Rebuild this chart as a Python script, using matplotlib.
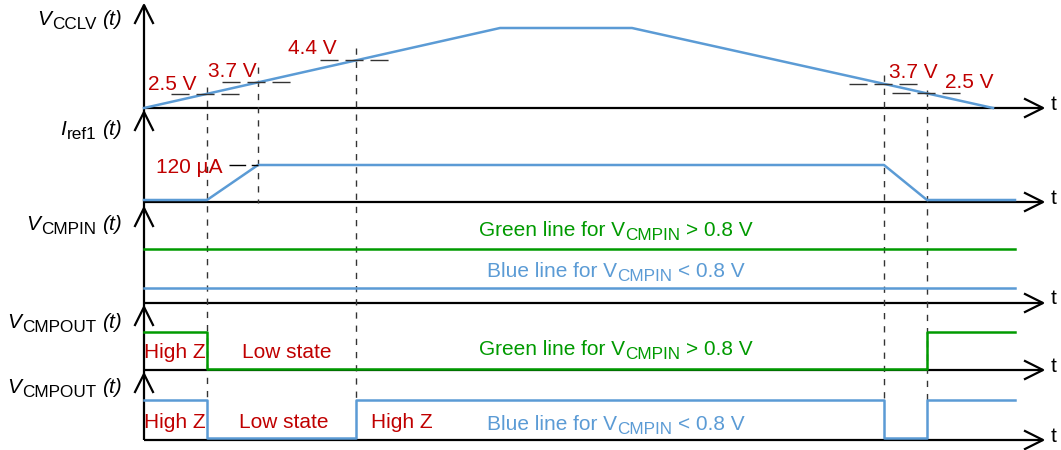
import numpy as np
import matplotlib
matplotlib.use("Agg")
import matplotlib.pyplot as plt

plt.rcParams['font.family'] = ['Liberation Sans', 'DejaVu Sans']

# ---------------- data (time units from the vertical axis) ----------------
t_events = [63, 114, 212, 740, 783]          # t1..t5 (dashed markers)
t_end = 871

vcclv_t = [0, 356, 488, 849]
vcclv_v = [0, 80, 80, 0]
vcclv_labels = ["2.5 V", "3.7 V", "4.4 V", "3.7 V", "2.5 V"]

iref_t = [0, 63, 114, 740, 783, 871]
iref_v = [2, 2, 37, 37, 2, 2]
iref_label = "120 µA"

vcmpin_green_t = [0, 871]
vcmpin_green_v = [54, 54]
vcmpin_blue_t = [0, 871]
vcmpin_blue_v = [15, 15]

out_green_t = [0, 63, 63, 783, 783, 871]
out_green_v = [38, 38, 1, 1, 38, 38]
out_blue_t = [0, 63, 63, 212, 212, 740, 740, 783, 783, 871]
out_blue_v = [40, 40, 2, 2, 40, 40, 2, 2, 40, 40]

panel_symbols = ["V", "I", "V", "V", "V"]
panel_subs = ["CCLV", "ref1", "CMPIN", "CMPOUT", "CMPOUT"]
state_labels_green = ["High Z", "Low state"]
state_labels_blue = ["High Z", "Low state", "High Z"]

# ---------------- layout / style ----------------
X0 = 144
baselines = [108, 202, 303, 370, 440]
tops = [5, 112, 208, 307, 374]
label_baselines = [25, 135, 230, 328, 393]
X_ARROW = 1043
BLUE = '#5b9bd5'
GREEN = '#009a00'
RED = '#c00000'
FS = 15
FS_SUB = 12.3
SUB_DY = 4

fig = plt.figure(figsize=(10.61, 4.5), dpi=100)
ax = fig.add_axes([0, 0, 1, 1])
ax.set_xlim(0, 1061)
ax.set_ylim(450, 0)
ax.axis('off')
renderer = fig.canvas.get_renderer()


def X(t):
    return X0 + np.asarray(t, dtype=float)


def Y(p, v):
    return baselines[p] - np.asarray(v, dtype=float)


def rich(x, y, parts, ha='center', color='black'):
    """parts: (text, size, italic, dy_down, gap_before)"""
    arts, widths = [], []
    for s, size, it, dy, gap in parts:
        t = ax.text(0, 0, s, fontsize=size, style='italic' if it else 'normal',
                    color=color, ha='left', va='baseline')
        widths.append(t.get_window_extent(renderer).width)
        arts.append(t)
    total = sum(widths) + sum(p[4] for p in parts)
    if ha == 'center':
        cx = x - total / 2
    elif ha == 'right':
        cx = x - total
    else:
        cx = x
    for t, w, p in zip(arts, widths, parts):
        cx += p[4]
        t.set_position((cx, y + p[3]))
        cx += w


def cmpin_text(x, y, color, rel):
    rich(x, y, [("Green line for V" if color == GREEN else "Blue line for V", FS, False, 0, 0),
                ("CMPIN", FS_SUB, False, SUB_DY, 0),
                (rel + " 0.8 V", FS, False, 0, 5.8)], color=color)


# axes with open arrow heads
ax.plot([X0, X0], [tops[0], baselines[-1]], color='black', lw=1.6, solid_capstyle='butt')
for p in range(5):
    b, tp = baselines[p], tops[p]
    ax.plot([X0, X_ARROW], [b, b], color='black', lw=1.6, solid_capstyle='butt')
    ax.plot([X_ARROW - 18, X_ARROW, X_ARROW - 18], [b - 9, b, b + 9], color='black', lw=1.6)
    ax.plot([X0 - 9, X0, X0 + 9], [tp + 18, tp, tp + 18], color='black', lw=1.6)
    ax.text(1051, b - 4, 't', fontsize=FS, ha='left', va='center')
    rich(122, label_baselines[p],
         [(panel_symbols[p], FS, True, 0, 0),
          (panel_subs[p], FS_SUB, False, SUB_DY, 1),
          ("(t)", FS, True, 0, 5.8)], ha='right')

# vertical dashed markers
dash_tops = [87, 67, 48, 75, 90]
dash_bottoms = [400, 203, 400, 400, 400]
for te, dt, db in zip(t_events, dash_tops, dash_bottoms):
    ax.plot([X(te), X(te)], [dt, db], color='#333333', lw=1.0, dashes=(4.5, 5))

# Panel 1: V_CCLV
ax.plot(X(vcclv_t), Y(0, vcclv_v), color=BLUE, lw=1.8)
lvl = [np.interp(te, vcclv_t, vcclv_v) for te in t_events]
hl = [(-36, 35), (-36, 35), (-36, 39), (-35, 38), (-35, 35)]
lab_off = [(-35, -4), (-26, -5), (-44, -6), (29, -6), (42, -5)]
for te, lv, (a, bb), lab, (dx, dy) in zip(t_events, lvl, hl, vcclv_labels, lab_off):
    y = Y(0, lv)
    ax.plot([X(te) + a, X(te) + bb], [y, y], color='#333333', lw=1.0, dashes=(13, 5))
    ax.text(X(te) + dx, y + dy, lab, color=RED, fontsize=FS, ha='center', va='baseline')

# Panel 2: I_ref1
ax.plot(X(iref_t), Y(1, iref_v), color=BLUE, lw=1.8)
y120 = Y(1, max(iref_v))
ax.plot([X(iref_t[2]) - 29, X(iref_t[2])], [y120, y120], color='black', lw=1.0, dashes=(12, 4))
ax.text(X(iref_t[2]) - 36, y120 + 8, iref_label, color=RED, fontsize=FS, ha='right', va='baseline')

# Panel 3: V_CMPIN
ax.plot(X(vcmpin_green_t), Y(2, vcmpin_green_v), color=GREEN, lw=1.8)
ax.plot(X(vcmpin_blue_t), Y(2, vcmpin_blue_v), color=BLUE, lw=1.8)
cmpin_text(616, 236, GREEN, '>')
cmpin_text(616, 277, BLUE, '<')

# Panel 4: V_CMPOUT (green)
ax.plot(X(out_green_t), Y(3, out_green_v), color=GREEN, lw=1.8)
for xc, lab in zip([175, 287], state_labels_green):
    ax.text(xc, 358, lab, color=RED, fontsize=FS, ha='center', va='baseline')
cmpin_text(616, 355, GREEN, '>')

# Panel 5: V_CMPOUT (blue)
ax.plot(X(out_blue_t), Y(4, out_blue_v), color=BLUE, lw=1.8)
for xc, lab in zip([175, 284, 402], state_labels_blue):
    ax.text(xc, 428, lab, color=RED, fontsize=FS, ha='center', va='baseline')
cmpin_text(616, 430, BLUE, '<')

fig.savefig('out.png', dpi=100)
